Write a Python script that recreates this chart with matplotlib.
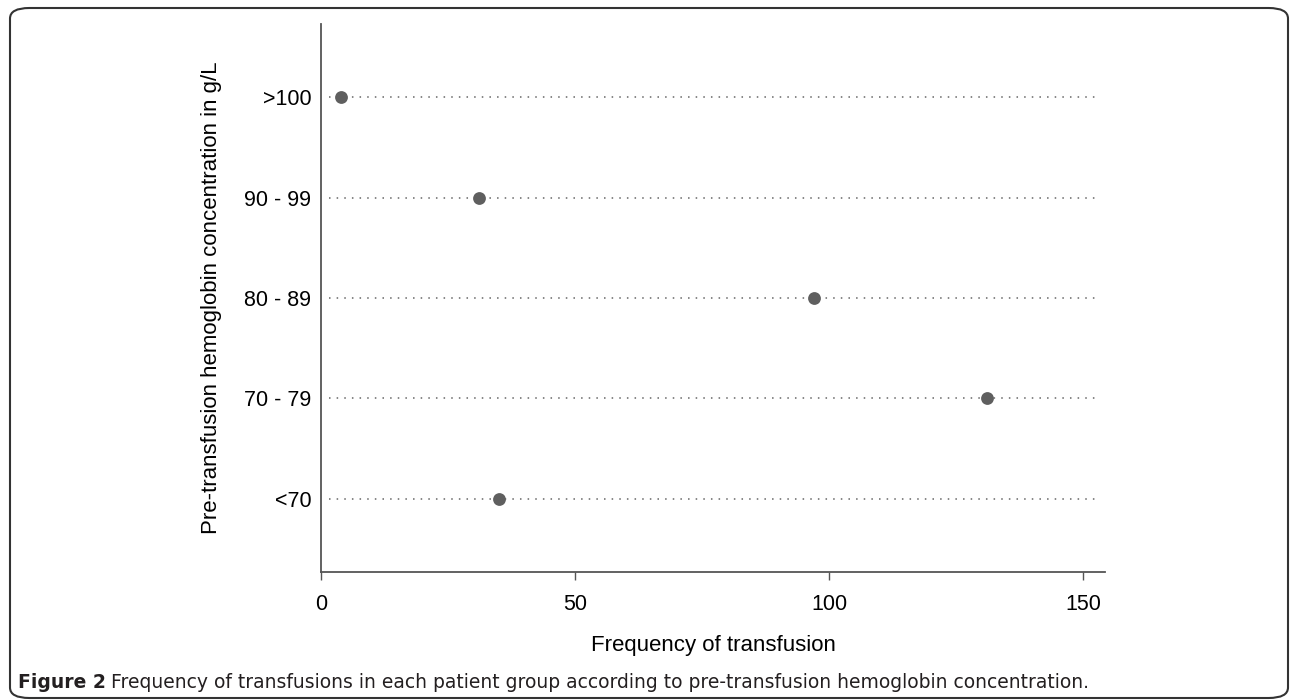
import matplotlib.pyplot as plt
from matplotlib.patches import FancyBboxPatch

groups = ['<70', '70 - 79', '80 - 89', '90 - 99', '>100']
freq = [35, 131, 97, 31, 4]
xticks = [0, 50, 100, 150]

plt.rcParams['font.family'] = ['Liberation Sans', 'DejaVu Sans']

fig = plt.figure(figsize=(12.9, 7), dpi=100)
ax = fig.add_axes([321/1290, 1 - 572/700, 784/1290, 548/700])

ypos = list(range(1, len(groups) + 1))
ax.set_xlim(0, 154.3)
ax.set_ylim(0.27, 5.73)

# dotted guide lines
ax.hlines(ypos, 1.6, 153.3, colors='#666666', linestyles=(0, (1, 4)), linewidth=1.1, zorder=1)
ax.scatter(freq, ypos, s=85, color='#5f5f5f', zorder=3, linewidths=0)

ax.set_yticks(ypos)
ax.set_yticklabels(groups)
ax.set_xticks(xticks)
ax.tick_params(axis='y', length=0, pad=7, labelsize=15.5)
ax.tick_params(axis='x', length=6, width=1, color='#555555', pad=10, labelsize=15.5)
for s in ['top', 'right']:
    ax.spines[s].set_visible(False)
for s in ['left', 'bottom']:
    ax.spines[s].set_color('#555555')
    ax.spines[s].set_linewidth(1.3)

ax.set_xlabel('Frequency of transfusion', fontsize=16, labelpad=14)
ax.set_ylabel('Pre-transfusion hemoglobin concentration in g/L', fontsize=16, labelpad=16)

# frame around the figure
box = FancyBboxPatch((10/1290, 2/700), 1278/1290, 690/700,
                     boxstyle='round,pad=0,rounding_size=0.015',
                     transform=fig.transFigure, fill=False, edgecolor='#333333', linewidth=1.5)
fig.patches.append(box)

cap_font = ['Liberation Sans Narrow', 'DejaVu Sans']
t1 = fig.text(18/1290, 1 - 682/700, 'Figure 2', fontsize=13.5, fontweight='bold',
              family=cap_font, va='center', color='#231f20')
fig.canvas.draw()
bb = t1.get_window_extent()
fig.text((bb.x1 + 5)/1290, 1 - 682/700,
         'Frequency of transfusions in each patient group according to pre-transfusion hemoglobin concentration.',
         fontsize=13.5, family=cap_font, va='center', color='#231f20')

fig.savefig('out.png', dpi=100)
